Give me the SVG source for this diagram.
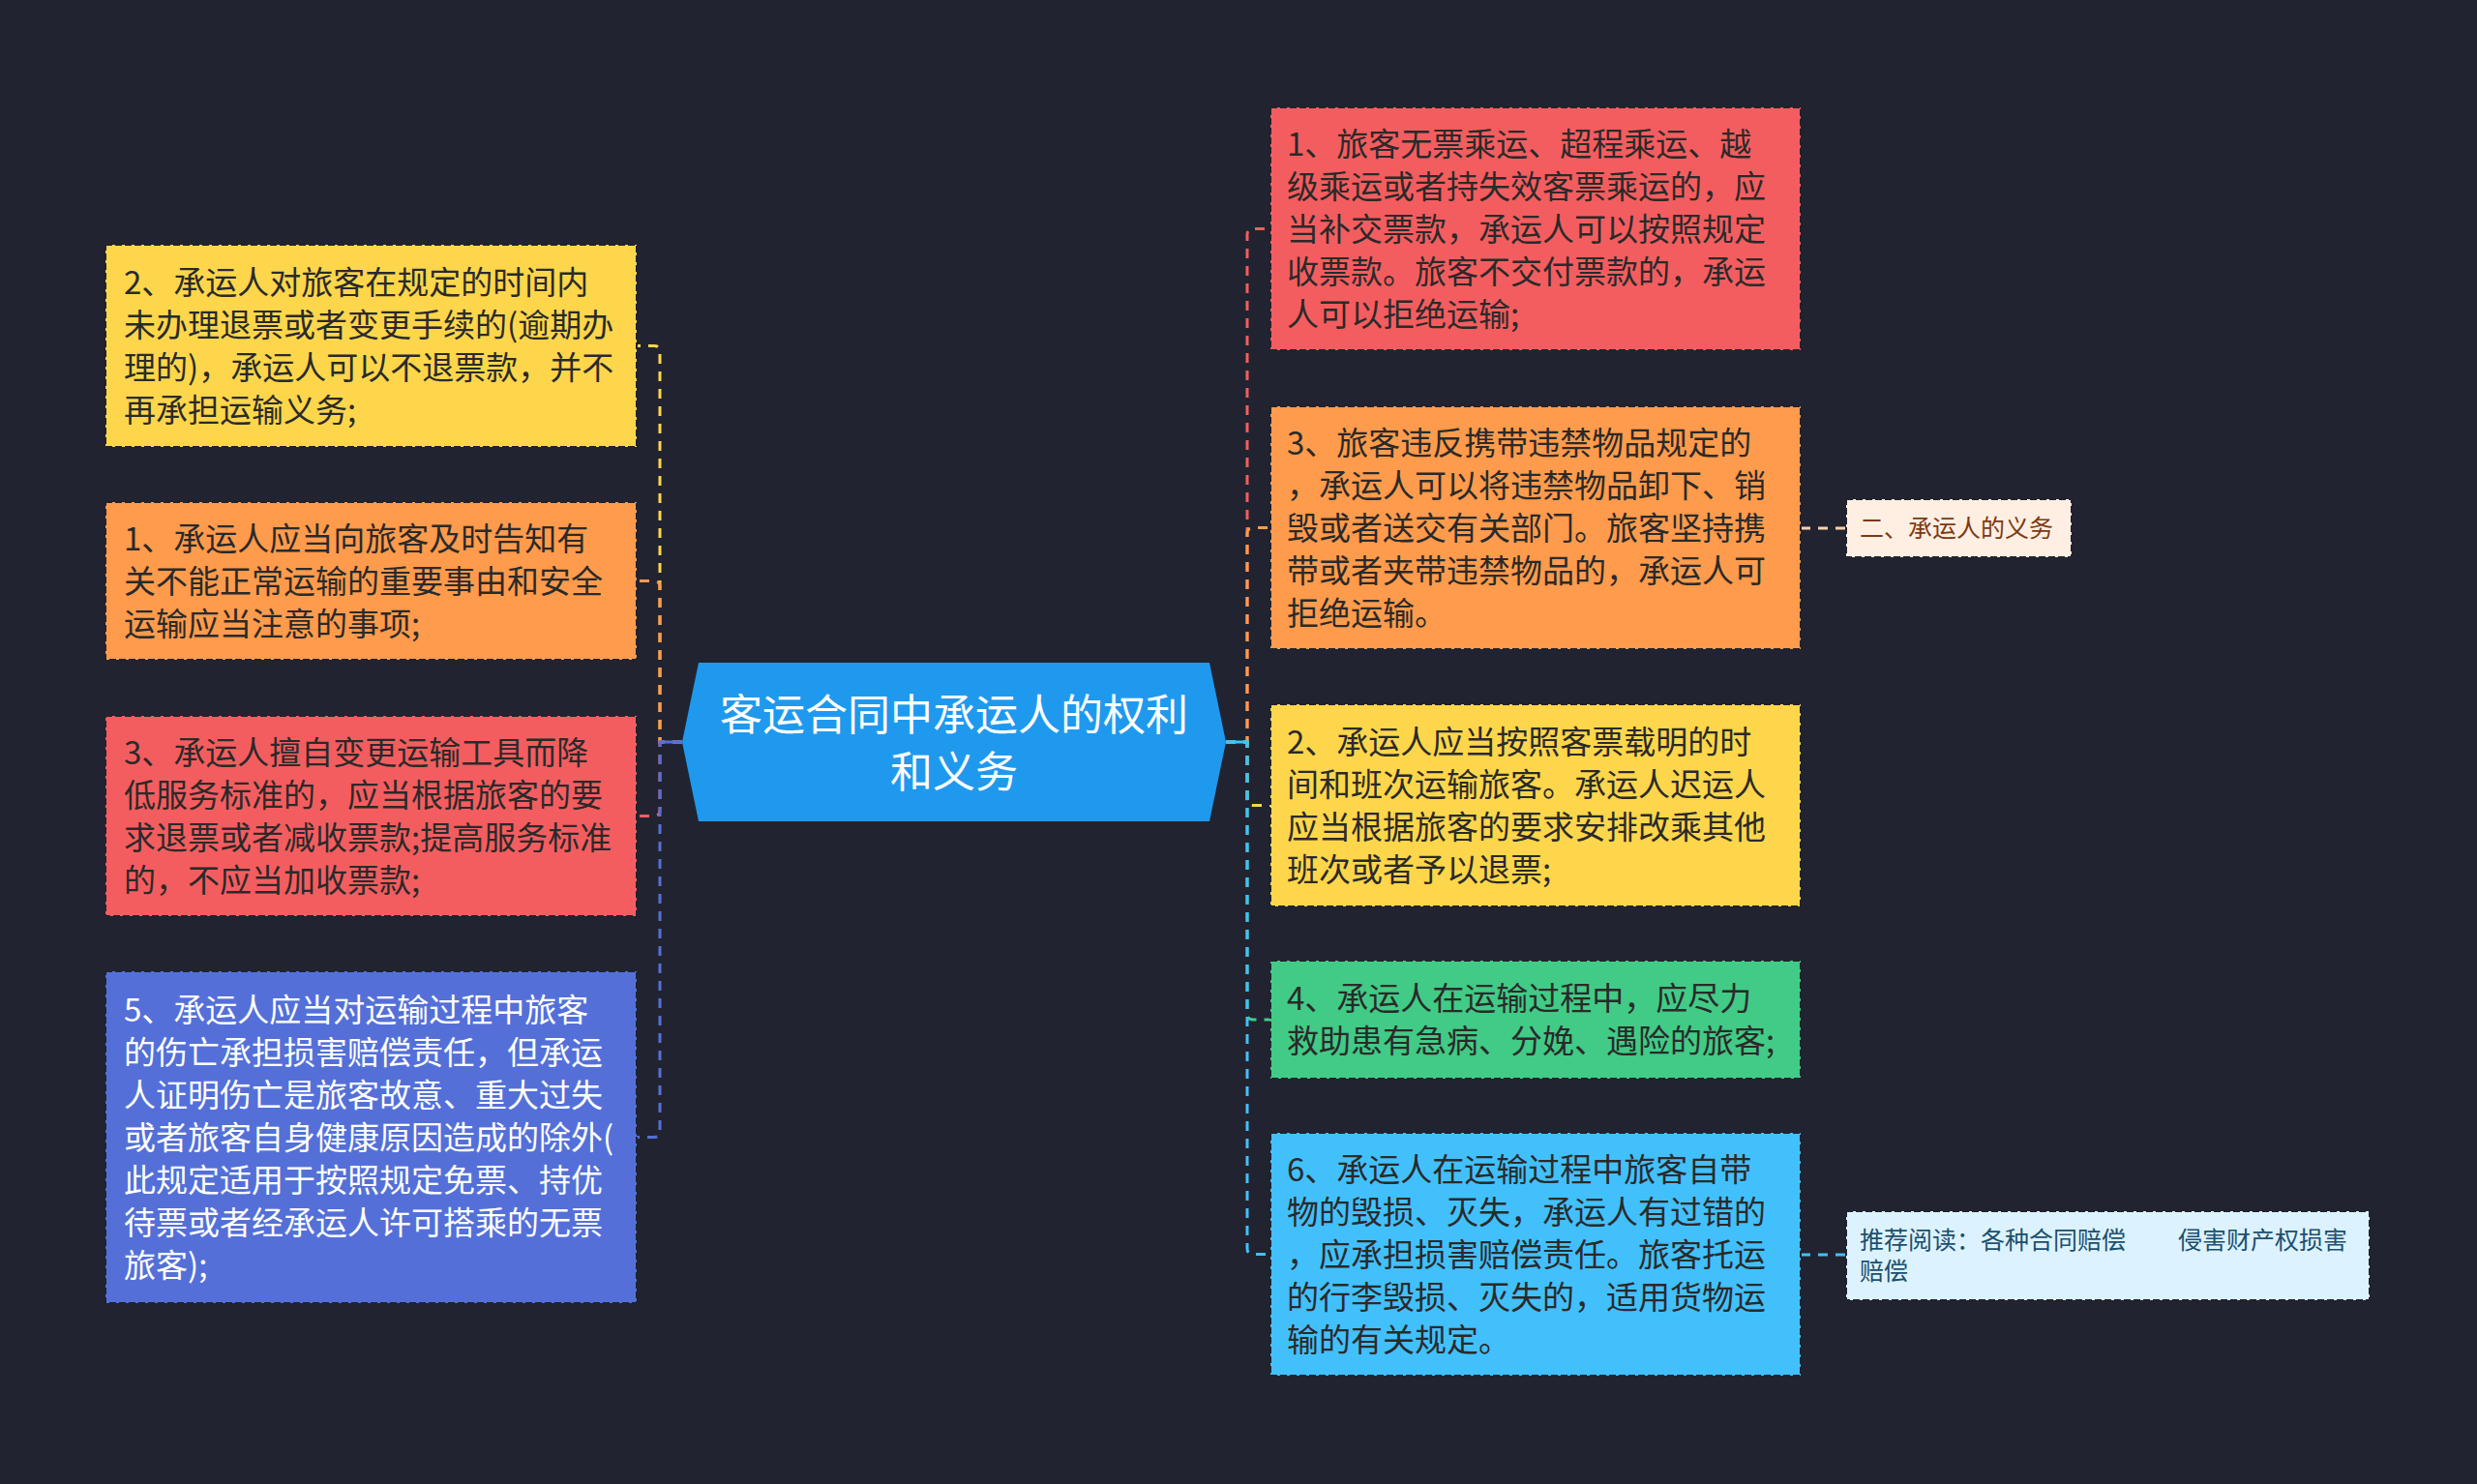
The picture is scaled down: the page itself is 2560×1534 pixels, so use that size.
<svg xmlns="http://www.w3.org/2000/svg" width="2560" height="1534" viewBox="0 0 2560 1534">
<style>
.bg{fill:#212430}
.box{stroke:#20232e;stroke-width:2;stroke-dasharray:7 3}
.t{font-family:"Noto Sans CJK SC","Microsoft YaHei",sans-serif;font-size:33px;fill:#2a2a2a}
.tw{fill:#ffffff}
.c{fill:none;stroke-width:3;stroke-dasharray:10 8}
.ctr{font-family:"Noto Sans CJK SC",sans-serif;font-size:44px;fill:#ffffff;text-anchor:middle}
.s{font-family:"Noto Sans CJK SC",sans-serif;font-size:25px}
</style>
<rect class="bg" x="0" y="0" width="2560" height="1534"/>
<g id="connectors">
<path class="c" stroke="#fdd64b" d="M705 767 H682 V363.5 Q682 357.5 676 357.5 H658"/>
<path class="c" stroke="#ff9b4c" d="M705 767 H682 V606.5 Q682 600.5 676 600.5 H658"/>
<path class="c" stroke="#f45d5f" d="M705 767 H682 V837.5 Q682 843.5 676 843.5 H658"/>
<path class="c" stroke="#5470d8" d="M705 767 H682 V1169.5 Q682 1175.5 676 1175.5 H658"/>
<line x1="705" y1="767" x2="682" y2="767" stroke="#5470d8" stroke-width="3"/>
<path class="c" stroke="#f45d5f" d="M1267 767 H1289 V242.5 Q1289 236.5 1295 236.5 H1313"/>
<path class="c" stroke="#ff9b4c" d="M1267 767 H1289 V551.5 Q1289 545.5 1295 545.5 H1313"/>
<path class="c" stroke="#fdd64b" d="M1267 767 H1289 V826.5 Q1289 832.5 1295 832.5 H1313"/>
<path class="c" stroke="#41cb86" d="M1267 767 H1289 V1048 Q1289 1054 1295 1054 H1313"/>
<path class="c" stroke="#42c0fb" d="M1267 767 H1289 V1290.5 Q1289 1296.5 1295 1296.5 H1313"/>
<line x1="1267" y1="767" x2="1289" y2="767" stroke="#42c0fb" stroke-width="3"/>
<path class="c" stroke="#ffd0ad" stroke-width="2" d="M1861 546 H1908"/>
<path class="c" stroke="#42c0fb" stroke-width="2" d="M1861 1297 H1908"/>
</g>
<g id="center">
<polygon points="722,685 1250,685 1267,767 1250,849 722,849 705,767" fill="#1f99ee"/>
<text class="ctr"><tspan x="986" y="755">客运合同中承运人的权利</tspan><tspan x="986" y="814">和义务</tspan></text>
</g>
<g id="left-yellow">
<rect class="box" x="109" y="253" width="549" height="209" fill="#fdd64b"/>
<text class="t"><tspan x="128" y="303.5">2、承运人对旅客在规定的时间内</tspan><tspan x="128" dy="44">未办理退票或者变更手续的(逾期办</tspan><tspan x="128" dy="44">理的)，承运人可以不退票款，并不</tspan><tspan x="128" dy="44">再承担运输义务;</tspan></text>
</g>
<g id="left-orange">
<rect class="box" x="109" y="519" width="549" height="163" fill="#ff9b4c"/>
<text class="t"><tspan x="128" y="568.5">1、承运人应当向旅客及时告知有</tspan><tspan x="128" dy="44">关不能正常运输的重要事由和安全</tspan><tspan x="128" dy="44">运输应当注意的事项;</tspan></text>
</g>
<g id="left-red">
<rect class="box" x="109" y="740" width="549" height="207" fill="#f45d5f"/>
<text class="t"><tspan x="128" y="789.5">3、承运人擅自变更运输工具而降</tspan><tspan x="128" dy="44">低服务标准的，应当根据旅客的要</tspan><tspan x="128" dy="44">求退票或者减收票款;提高服务标准</tspan><tspan x="128" dy="44">的，不应当加收票款;</tspan></text>
</g>
<g id="left-blue">
<rect class="box" x="109" y="1004" width="549" height="343" fill="#5470d8"/>
<text class="t tw"><tspan x="128" y="1055.5">5、承运人应当对运输过程中旅客</tspan><tspan x="128" dy="44">的伤亡承担损害赔偿责任，但承运</tspan><tspan x="128" dy="44">人证明伤亡是旅客故意、重大过失</tspan><tspan x="128" dy="44">或者旅客自身健康原因造成的除外(</tspan><tspan x="128" dy="44">此规定适用于按照规定免票、持优</tspan><tspan x="128" dy="44">待票或者经承运人许可搭乘的无票</tspan><tspan x="128" dy="44">旅客);</tspan></text>
</g>
<g id="right-red">
<rect class="box" x="1313" y="111" width="548" height="251" fill="#f45d5f"/>
<text class="t"><tspan x="1330" y="160.5">1、旅客无票乘运、超程乘运、越</tspan><tspan x="1330" dy="44">级乘运或者持失效客票乘运的，应</tspan><tspan x="1330" dy="44">当补交票款，承运人可以按照规定</tspan><tspan x="1330" dy="44">收票款。旅客不交付票款的，承运</tspan><tspan x="1330" dy="44">人可以拒绝运输;</tspan></text>
</g>
<g id="right-orange">
<rect class="box" x="1313" y="420" width="548" height="251" fill="#ff9b4c"/>
<text class="t"><tspan x="1330" y="469.5">3、旅客违反携带违禁物品规定的</tspan><tspan x="1330" dy="44">，承运人可以将违禁物品卸下、销</tspan><tspan x="1330" dy="44">毁或者送交有关部门。旅客坚持携</tspan><tspan x="1330" dy="44">带或者夹带违禁物品的，承运人可</tspan><tspan x="1330" dy="44">拒绝运输。</tspan></text>
</g>
<g id="right-yellow">
<rect class="box" x="1313" y="728" width="548" height="209" fill="#fdd64b"/>
<text class="t"><tspan x="1330" y="778.5">2、承运人应当按照客票载明的时</tspan><tspan x="1330" dy="44">间和班次运输旅客。承运人迟运人</tspan><tspan x="1330" dy="44">应当根据旅客的要求安排改乘其他</tspan><tspan x="1330" dy="44">班次或者予以退票;</tspan></text>
</g>
<g id="right-green">
<rect class="box" x="1313" y="993" width="548" height="122" fill="#41cb86"/>
<text class="t"><tspan x="1330" y="1044">4、承运人在运输过程中，应尽力</tspan><tspan x="1330" dy="44">救助患有急病、分娩、遇险的旅客;</tspan></text>
</g>
<g id="right-lightblue">
<rect class="box" x="1313" y="1171" width="548" height="251" fill="#42c0fb"/>
<text class="t"><tspan x="1330" y="1220.5">6、承运人在运输过程中旅客自带</tspan><tspan x="1330" dy="44">物的毁损、灭失，承运人有过错的</tspan><tspan x="1330" dy="44">，应承担损害赔偿责任。旅客托运</tspan><tspan x="1330" dy="44">的行李毁损、灭失的，适用货物运</tspan><tspan x="1330" dy="44">输的有关规定。</tspan></text>
</g>
<g id="duty-label">
<rect class="box" x="1908" y="516" width="233" height="60" fill="#ffeee2"/>
<text class="s" x="1922" y="555" fill="#7b3a12">二、承运人的义务</text>
</g>
<g id="recommend">
<rect class="box" x="1908" y="1252" width="541" height="92" fill="#dcf3ff"/>
<text class="s" fill="#1c4f6e"><tspan x="1922" y="1291">推荐阅读：各种合同赔偿</tspan><tspan x="2251" y="1291">侵害财产权损害</tspan><tspan x="1922" y="1323">赔偿</tspan></text>
</g>
</svg>
